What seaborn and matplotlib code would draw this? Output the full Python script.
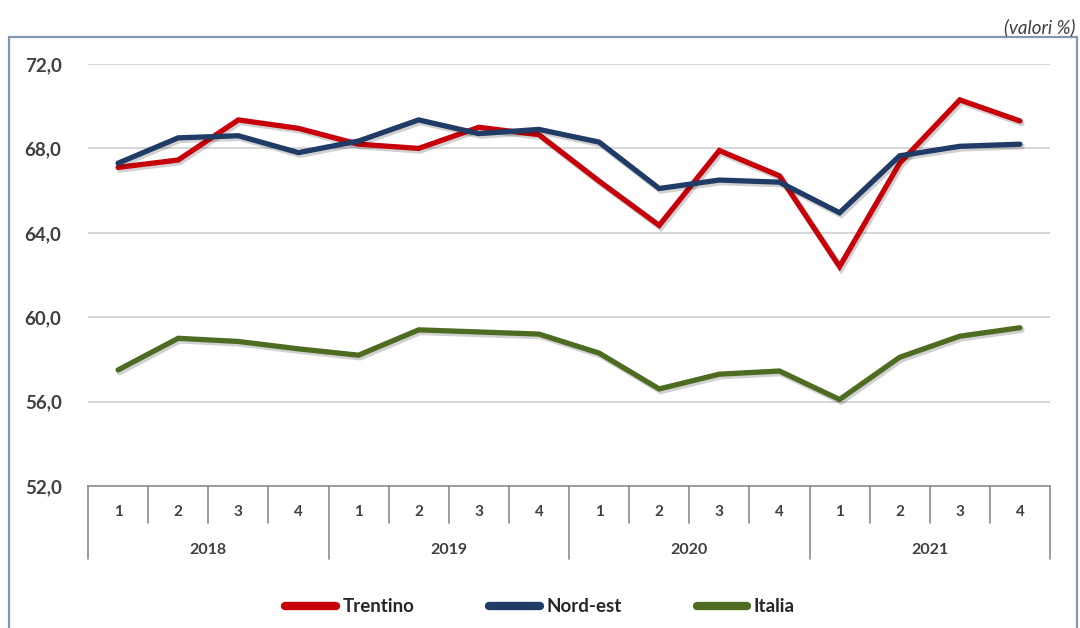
import matplotlib
matplotlib.use("Agg")
import matplotlib.pyplot as plt
import matplotlib.patheffects as pe
from matplotlib.patches import Rectangle
from matplotlib.lines import Line2D
import matplotlib.transforms as mtransforms
import seaborn as sns
import pandas as pd
import numpy as np

years = ["2018", "2019", "2020", "2021"]
quarters = ["1", "2", "3", "4"]
trentino = [67.1, 67.45, 69.35, 68.95, 68.2, 68.0, 69.0, 68.65,
            66.45, 64.35, 67.9, 66.7, 62.4, 67.3, 70.3, 69.3]
nord_est = [67.3, 68.5, 68.6, 67.8, 68.35, 69.35, 68.7, 68.9,
            68.3, 66.1, 66.5, 66.4, 64.95, 67.65, 68.1, 68.2]
italia = [57.5, 59.0, 58.85, 58.5, 58.2, 59.4, 59.3, 59.2,
          58.3, 56.6, 57.3, 57.45, 56.1, 58.1, 59.1, 59.5]
series_names = ["Trentino", "Nord-est", "Italia"]
colors = ["#C8000A", "#1F3B66", "#4E6B22"]
y_ticks = [52, 56, 60, 64, 68, 72]

n = len(years) * len(quarters)
df = pd.DataFrame({
    "idx": list(range(n)) * 3,
    "valore": trentino + nord_est + italia,
    "serie": [s for s in series_names for _ in range(n)],
})

sns.set_theme(style="white")
plt.rcParams["font.family"] = ["Lato", "DejaVu Sans"]

fig = plt.figure(figsize=(10.8, 6.28), dpi=100)
W, H = 1080, 628
left, right, top, bottom = 88, 1050, 64, 486
ax = fig.add_axes([left / W, 1 - bottom / H, (right - left) / W, (bottom - top) / H])

shadow = [pe.SimpleLineShadow(offset=(1.2, -1.6), shadow_color="#000000", alpha=0.18, linewidth=4.4),
          pe.Normal()]
sns.lineplot(data=df, x="idx", y="valore", hue="serie", hue_order=series_names,
             palette=colors, linewidth=3.8, ax=ax, legend=False, sort=False)
for ln in ax.get_lines():
    ln.set_path_effects(shadow)
    ln.set_solid_capstyle("round")
    ln.set_solid_joinstyle("miter")

ax.set_ylim(52, 72)
ax.set_xlim(-0.5, n - 0.5)
ax.set_yticks(y_ticks)
ax.set_yticklabels([f"{v:.1f}".replace(".", ",") for v in y_ticks],
                   fontsize=13.5, fontweight="bold", color="#404040")
ax.tick_params(axis="y", length=0, pad=19)
ax.set_xticks([])
ax.set_xlabel("")
ax.set_ylabel("")
for v in y_ticks[1:]:
    ax.axhline(v, color="#D0D0D0", linewidth=1.2, zorder=0)
for s in ["left", "right", "top"]:
    ax.spines[s].set_visible(False)
ax.spines["bottom"].set_color("#8C8C8C")
ax.spines["bottom"].set_linewidth(1.2)

# Multi-level category axis (table-like)
trans = mtransforms.blended_transform_factory(ax.transData, ax.transAxes)
ah = bottom - top
q_end = -(523 - bottom) / ah
y_end = -(559 - bottom) / ah
for i in range(n + 1):
    xb = i - 0.5
    yb = y_end if i % len(quarters) == 0 else q_end
    ax.add_line(Line2D([xb, xb], [0, yb], transform=trans, color="#8C8C8C",
                       linewidth=1.2, clip_on=False))
q_lab_y = -(512 - bottom) / ah
y_lab_y = -(550 - bottom) / ah
for i in range(n):
    ax.text(i, q_lab_y, quarters[i % len(quarters)], transform=trans, ha="center", va="center",
            fontsize=11, fontweight="bold", color="#404040")
for j, yr in enumerate(years):
    xc = j * len(quarters) + (len(quarters) - 1) / 2
    ax.text(xc, y_lab_y, yr, transform=trans, ha="center", va="center",
            fontsize=11.5, fontweight="bold", color="#404040")

# Legend
handles = [Line2D([], [], color=c, linewidth=6, solid_capstyle="round") for c in colors]
fig.legend(handles, series_names, loc="center", bbox_to_anchor=(0.5, 1 - 607 / H),
           ncol=3, frameon=False, handlelength=2.7, handletextpad=0.35,
           columnspacing=4.0, labelcolor="#262626",
           prop={"size": 13.5, "weight": "bold"})

# Outer frame and unit note
fig.patches.append(Rectangle((9 / W, -0.05), (1077 - 9) / W, 1 - 37 / H + 0.05,
                             transform=fig.transFigure, fill=False,
                             edgecolor="#8496B0", linewidth=1.6))
fig.text(1075 / W, 1 - 27 / H, "(valori %)", ha="right", va="center",
         fontsize=13.5, style="italic", color="#404040")

fig.savefig("out.png", dpi=100)
